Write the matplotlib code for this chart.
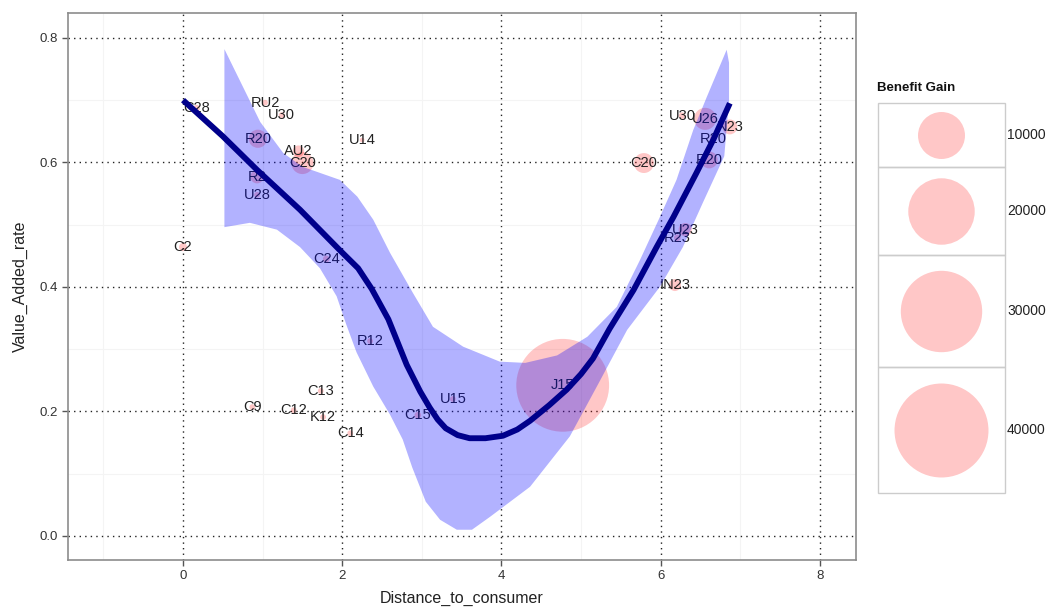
import matplotlib
matplotlib.use("Agg")
import matplotlib.pyplot as plt
from matplotlib.patches import Rectangle

plt.rcParams["font.family"] = ["Liberation Sans", "DejaVu Sans"]

# ------------------------------------------------------------------
# Data
# ------------------------------------------------------------------
labels = ["C28", "C2", "RU2", "U30", "R20", "AU2", "C20", "U14", "R2", "U28",
          "C24", "R12", "C13", "C9", "C12", "K12", "C14", "C15", "U15", "J15",
          "U30", "U26", "N23", "R20", "R20", "C20", "U23", "R23", "IN23"]
distance = [0.17, 0.00, 1.03, 1.24, 0.94, 1.45, 1.50, 2.25, 0.93, 0.93,
            1.80, 2.35, 1.73, 0.87, 1.39, 1.76, 2.10, 2.95, 3.39, 4.77,
            6.27, 6.56, 6.87, 6.66, 6.61, 5.79, 6.31, 6.21, 6.18]
value_added = [0.687, 0.464, 0.696, 0.676, 0.638, 0.618, 0.599, 0.636, 0.577, 0.548,
               0.445, 0.313, 0.233, 0.207, 0.202, 0.191, 0.165, 0.194, 0.220, 0.242,
               0.675, 0.670, 0.657, 0.638, 0.604, 0.599, 0.492, 0.479, 0.403]
benefit = [200, 300, 150, 150, 1500, 600, 2200, 100, 800, 150,
           200, 150, 150, 150, 150, 150, 150, 200, 150, 39000,
           200, 2200, 1000, 200, 1300, 1800, 800, 200, 650]

# loess curve
smooth_x = [0.00, 0.50, 0.93, 1.47, 1.97, 2.20, 2.37, 2.58, 2.81, 2.98, 3.10, 3.20,
            3.30, 3.45, 3.60, 3.80, 4.02, 4.20, 4.36, 4.60, 4.82, 5.00, 5.15, 5.36,
            5.66, 5.95, 6.16, 6.45, 6.66, 6.87]
smooth_y = [0.700, 0.642, 0.588, 0.524, 0.459, 0.430, 0.397, 0.348, 0.275, 0.232, 0.206, 0.187,
            0.173, 0.162, 0.157, 0.157, 0.161, 0.171, 0.185, 0.210, 0.235, 0.260, 0.285, 0.333,
            0.395, 0.464, 0.512, 0.583, 0.636, 0.695]

# confidence band edges
upper_x = [0.52, 0.97, 1.26, 1.50, 1.68, 1.97, 2.19, 2.39, 2.60, 2.89, 3.14, 3.52,
           3.98, 4.30, 4.70, 5.08, 5.45, 5.74, 5.99, 6.20, 6.41, 6.58, 6.83, 6.86]
upper_y = [0.782, 0.665, 0.615, 0.593, 0.585, 0.572, 0.545, 0.508, 0.455, 0.390, 0.336, 0.304,
           0.280, 0.278, 0.290, 0.320, 0.368, 0.443, 0.512, 0.572, 0.652, 0.705, 0.781, 0.760]
lower_x = [0.52, 0.84, 1.18, 1.47, 1.72, 1.93, 2.05, 2.18, 2.39, 2.60, 2.76, 2.88, 3.05, 3.23,
           3.44, 3.63, 3.86, 4.36, 4.86, 5.22, 5.45, 5.58, 5.99, 6.28, 6.53, 6.80, 6.86]
lower_y = [0.496, 0.503, 0.492, 0.464, 0.430, 0.385, 0.340, 0.295, 0.240, 0.195, 0.155, 0.110, 0.055, 0.026,
           0.010, 0.010, 0.031, 0.079, 0.160, 0.245, 0.300, 0.331, 0.400, 0.464, 0.535, 0.610, 0.700]

legend_values = [10000, 20000, 30000, 40000]


def bubble_size(v):
    # area proportional to benefit; 10000 -> ~47 px wide circle
    return 1145.0 * v / 10000.0


W, H = 1058, 610
fig = plt.figure(figsize=(W / 100, H / 100), dpi=100)
ax = fig.add_axes([68 / W, 1 - 560 / H, (856 - 68) / W, (560 - 13) / H])

ax.set_xlim(-1.445, 8.455)
ax.set_ylim(-0.0386, 0.840)
ax.set_xticks([0, 2, 4, 6, 8])
ax.set_xticks([-1, 1, 3, 5, 7], minor=True)
ax.set_yticks([0.0, 0.2, 0.4, 0.6, 0.8])
ax.set_yticks([0.1, 0.3, 0.5, 0.7], minor=True)
ax.set_yticklabels(["0.0", "0.2", "0.4", "0.6", "0.8"])
ax.set_axisbelow(True)
ax.grid(which="minor", color="#F4F4F4", lw=0.8, linestyle="-")
ax.grid(which="major", color="#222222", lw=1.0, linestyle=(0, (1, 3)))
ax.tick_params(which="major", length=4, width=1, color="#555555",
               labelsize=9.5, labelcolor="#333333")
ax.tick_params(which="minor", length=0)
for sp in ax.spines.values():
    sp.set_color("#8C8C8C")
    sp.set_linewidth(1.2)

ax.set_xlabel("Distance_to_consumer", fontsize=11.5, color="#222222", labelpad=6)
ax.set_ylabel("Value_Added_rate", fontsize=11.5, color="#222222", labelpad=8)

# points and labels
ax.scatter(distance, value_added, s=[bubble_size(b) for b in benefit],
           color="red", alpha=0.22, lw=0, zorder=2)
for name, x, y in zip(labels, distance, value_added):
    ax.text(x, y, name, ha="center", va="center", fontsize=10.5,
            color="#222222", zorder=3)

# smoother with confidence band
band_x = upper_x + lower_x[::-1]
band_y = upper_y + lower_y[::-1]
ax.fill(band_x, band_y, color="blue", alpha=0.3, lw=0, zorder=4)
ax.plot(smooth_x, smooth_y, color="#00008B", lw=4.2, zorder=5,
        solid_capstyle="butt", solid_joinstyle="round")

# legend drawn in pixel coordinates
lax = fig.add_axes([0, 0, 1, 1], facecolor="none")
lax.set_xlim(0, W)
lax.set_ylim(H, 0)
lax.axis("off")
lax.text(877, 88, "Benefit Gain", fontsize=9.5, fontweight="bold",
         ha="left", va="center", color="#111111")
key_heights = [64, 88, 112, 126]
top = 103
for v, h in zip(legend_values, key_heights):
    lax.add_patch(Rectangle((878, top), 127, h, fill=False,
                            edgecolor="#CCCCCC", lw=1.0))
    lax.scatter([941], [top + h / 2], s=bubble_size(v), color="red",
                alpha=0.22, lw=0)
    lax.text(1007, top + h / 2, str(v), fontsize=10, ha="left", va="center",
             color="#222222")
    top += h

fig.savefig("out.png", dpi=100)
